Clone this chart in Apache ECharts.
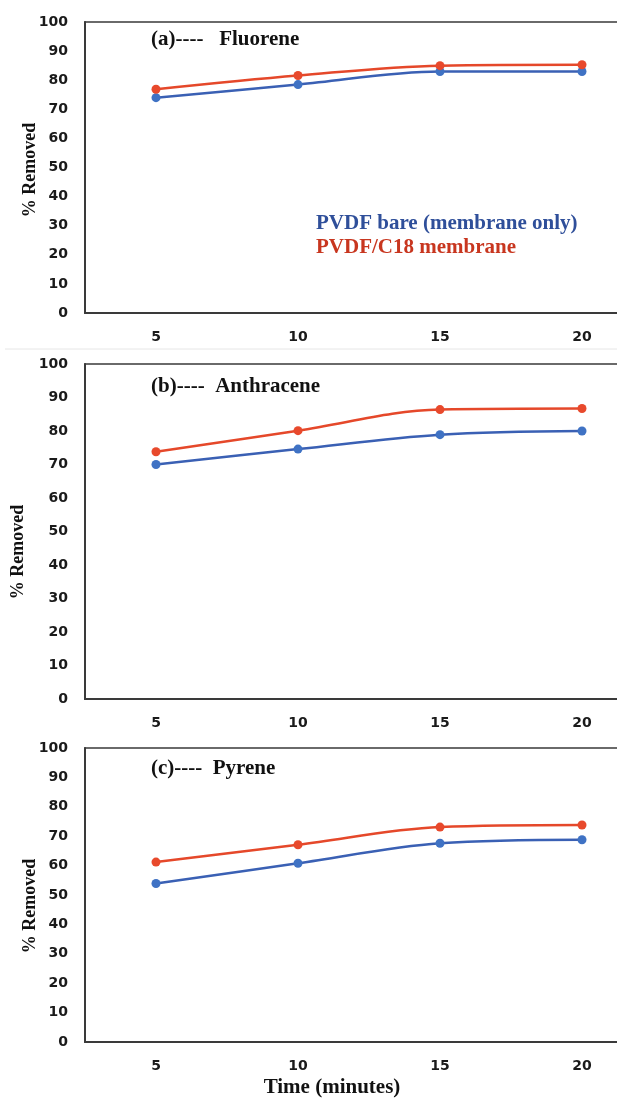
<!DOCTYPE html>
<html>
<head>
<meta charset="utf-8">
<script src="https://cdn.jsdelivr.net/npm/echarts@6/dist/echarts.min.js"></script>
<style>
html,body{margin:0;padding:0;background:#fff;overflow:hidden;}
#chart{width:617px;height:1102px;}
</style>
</head>
<body>
<div id="chart"></div>
<script>
// ---- data ----
const timeCategories = ['5', '10', '15', '20'];
const yTicks = [0, 10, 20, 30, 40, 50, 60, 70, 80, 90, 100];
const seriesNames = ['PVDF bare (membrane only)', 'PVDF/C18 membrane'];
const panelTitles = ['(a)----   Fluorene', '(b)----  Anthracene', '(c)----  Pyrene'];
const fluoreneBare = [74.0, 78.5, 83.0, 83.0];
const fluoreneC18 = [76.9, 81.6, 85.0, 85.3];
const anthraceneBare = [70.0, 74.6, 78.9, 80.0];
const anthraceneC18 = [73.8, 80.1, 86.4, 86.7];
const pyreneBare = [53.9, 60.8, 67.6, 68.8];
const pyreneC18 = [61.2, 67.1, 73.1, 73.8];
const yAxisTitle = '% Removed';
const xAxisTitle = 'Time (minutes)';

const panelData = [
  [fluoreneBare, fluoreneC18],
  [anthraceneBare, anthraceneC18],
  [pyreneBare, pyreneC18]
];

// ---- layout/style ----
const BLUE_LINE = '#3a60b4';
const BLUE_DOT = '#3f72c4';
const RED_LINE = '#e5482a';
const RED_DOT = '#e8492c';
const gridsLayout = [
  {left: 85, top: 22, height: 291},
  {left: 85, top: 364, height: 335},
  {left: 85, top: 748, height: 294}
];
const tickFont = {fontFamily: 'DejaVu Sans', fontWeight: 'bold', fontSize: 14, color: '#1a1a1a'};
const serif = 'Liberation Serif';

const chart = echarts.init(document.getElementById('chart'), null, {renderer: 'canvas'});

const grid = gridsLayout.map(g => ({
  left: g.left, top: g.top, height: g.height, width: 568,
  outerBoundsMode: 'none', containLabel: false,
  show: true, borderColor: '#3a3a3a', borderWidth: 1.5, backgroundColor: 'transparent'
}));

const xAxis = gridsLayout.map((g, i) => ({
  type: 'category', gridIndex: i, data: timeCategories, boundaryGap: true,
  axisLine: {show: true, lineStyle: {color: '#3a3a3a', width: 2}},
  axisTick: {show: false},
  axisLabel: Object.assign({margin: 17}, tickFont),
  splitLine: {show: false}
}));

const yAxis = gridsLayout.map((g, i) => ({
  type: 'value', gridIndex: i, min: yTicks[0], max: yTicks[yTicks.length - 1], interval: 10,
  axisLine: {show: true, lineStyle: {color: '#3a3a3a', width: 2}},
  axisTick: {show: false},
  axisLabel: Object.assign({margin: 17}, tickFont),
  splitLine: {show: false}
}));

const series = [];
panelData.forEach((pair, i) => {
  pair.forEach((vals, k) => {
    series.push({
      name: seriesNames[k], type: 'line', xAxisIndex: i, yAxisIndex: i,
      data: vals, smooth: 0.35, symbol: 'circle', symbolSize: 9,
      lineStyle: {color: k === 0 ? BLUE_LINE : RED_LINE, width: 2.5},
      itemStyle: {color: k === 0 ? BLUE_DOT : RED_DOT},
      z: k === 0 ? 3 : 4
    });
  });
});

const titleTops = [29, 376, 758];
const title = panelTitles.map((t, i) => ({
  text: t, left: 151, top: titleTops[i],
  textStyle: {fontFamily: serif, fontWeight: 'bold', fontSize: 21, color: '#111'},
  padding: 0
}));

const yNamePos = [[30, 170], [18, 552], [30, 906]];
const graphic = yNamePos.map(p => ({
  type: 'text', x: p[0], y: p[1], rotation: Math.PI / 2,
  style: {text: yAxisTitle, font: 'bold 18px "Liberation Serif"', fill: '#111', textAlign: 'center', textVerticalAlign: 'middle'}
}));
graphic.push({
  type: 'line', shape: {x1: 5, y1: 349, x2: 617, y2: 349},
  style: {stroke: '#e6e6e6', lineWidth: 1}
});
graphic.push({
  type: 'text', x: 332, y: 1088,
  style: {text: xAxisTitle, font: 'bold 21px "Liberation Serif"', fill: '#111', textAlign: 'center', textVerticalAlign: 'middle'}
});

chart.setOption({
  animation: false,
  backgroundColor: '#ffffff',
  title: title,
  grid: grid,
  xAxis: xAxis,
  yAxis: yAxis,
  legend: {
    orient: 'vertical', left: 306, top: 208, icon: 'none', itemWidth: 0, itemHeight: 12, itemGap: 3,
    selectedMode: false,
    data: [
      {name: seriesNames[0], textStyle: {color: '#2f4f9a'}},
      {name: seriesNames[1], textStyle: {color: '#c8361f'}}
    ],
    textStyle: {fontFamily: serif, fontWeight: 'bold', fontSize: 21, lineHeight: 21}
  },
  graphic: graphic,
  series: series
});
</script>
</body>
</html>
